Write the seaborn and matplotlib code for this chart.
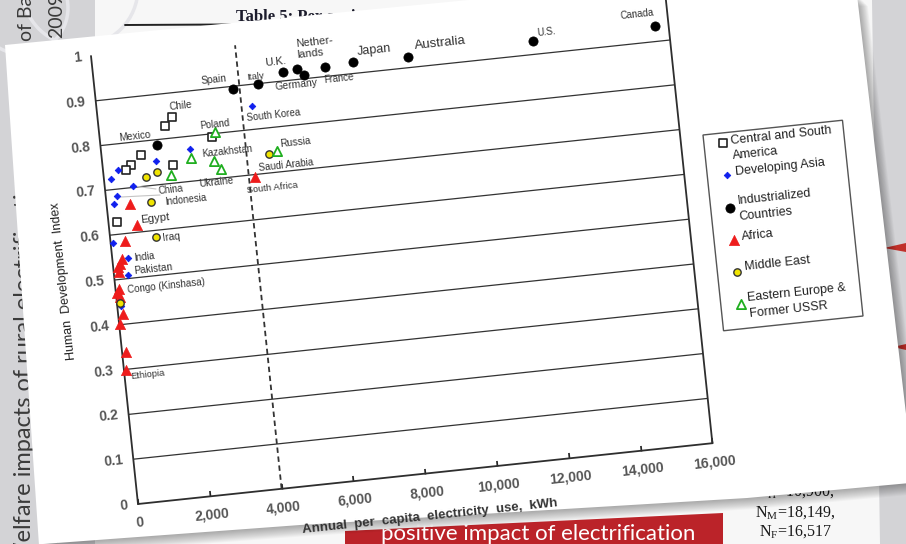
import matplotlib
matplotlib.use("Agg")
import numpy as np
import pandas as pd
import matplotlib.pyplot as plt
from matplotlib.transforms import Affine2D
from matplotlib.patches import Polygon, Rectangle, Circle
import mpl_toolkits.axisartist.floating_axes as floating_axes
from mpl_toolkits.axisartist.grid_finder import FixedLocator
import seaborn as sns

sns.set_theme(style="white")
plt.rcParams["font.family"] = ["Liberation Sans", "DejaVu Sans"]

# ---------------- data: per-capita electricity use (kWh) vs HDI ----------------
csa_kwh = [2050, 1830, 3100, 1090, 780, 640, 1940, 245]
csa_hdi = [0.847, 0.829, 0.794, 0.770, 0.750, 0.741, 0.740, 0.628]

asia_kwh = [4290, 2470, 1480, 415, 196, 780, 320, 210, 60, 430, 380, 110]
asia_hdi = [0.852, 0.772, 0.754, 0.743, 0.724, 0.703, 0.685, 0.668, 0.581, 0.545, 0.508, 0.441]

ind_kwh = [3810, 4510, 5250, 5640, 5820, 6420, 7190, 8730, 12220, 15630, 1570]
ind_hdi = [0.894, 0.900, 0.920, 0.923, 0.909, 0.920, 0.926, 0.924, 0.929, 0.935, 0.787]

afr_kwh = [4180, 650, 780, 410, 260, 200, 135, 130, 100, 30, 110, 130, 10, 105, 50]
afr_hdi = [0.694, 0.664, 0.616, 0.584, 0.544, 0.533, 0.517, 0.529, 0.479, 0.470, 0.462,
           0.422, 0.401, 0.339, 0.299]

me_kwh = [1160, 1480, 1230, 1260, 90, 4610]
me_hdi = [0.719, 0.728, 0.663, 0.586, 0.449, 0.743]

ee_kwh = [4850, 3190, 2460, 3090, 3260, 1850]
ee_hdi = [0.746, 0.803, 0.752, 0.740, 0.721, 0.719]

region_names = ["Central and South\nAmerica", "Developing Asia", "Industrialized\nCountries",
                "Africa", "Middle East", "Eastern Europe &\nFormer USSR"]
region_kwh = [csa_kwh, asia_kwh, ind_kwh, afr_kwh, me_kwh, ee_kwh]
region_hdi = [csa_hdi, asia_hdi, ind_hdi, afr_hdi, me_hdi, ee_hdi]

x_ticks = [0, 2000, 4000, 6000, 8000, 10000, 12000, 14000, 16000]
y_ticks = [0.0, 0.1, 0.2, 0.3, 0.4, 0.5, 0.6, 0.7, 0.8, 0.9, 1.0]
threshold_kwh = 4000

# country name annotations: (text, x, y, fontsize)
country_labels = [
    ("Spain", 2960, 0.919, 7.3), ("Italy", 4240, 0.917, 6.8), ("U.K.", 4770, 0.944, 8),
    ("Nether-\nlands", 5680, 0.966, 8), ("Germany", 4990, 0.888, 7.5),
    ("France", 6360, 0.893, 7), ("Japan", 7340, 0.946, 9), ("Australia", 8950, 0.946, 9.5),
    ("U.S.", 12360, 0.947, 7), ("Canada", 14700, 0.964, 7),
    ("South Korea", 4120, 0.826, 7), ("Chile", 2010, 0.869, 7.3), ("Mexico", 540, 0.812, 7.3),
    ("Poland", 2790, 0.820, 7), ("Kazakhstan", 2780, 0.758, 7), ("Russia", 4960, 0.762, 7.3),
    ("Saudi Arabia", 4290, 0.713, 7), ("South Africa", 3890, 0.667, 6.8),
    ("Ukraine", 2590, 0.692, 7.3), ("China", 1460, 0.686, 7), ("Indonesia", 1610, 0.661, 7),
    ("Egypt", 880, 0.627, 8.2), ("Iraq", 1430, 0.581, 7.5), ("India", 590, 0.544, 7),
    ("Pakistan", 570, 0.515, 7.3), ("Congo (Kinshasa)", 330, 0.475, 7),
    ("Ethiopia", 170, 0.284, 6.8),
]

styles = {
    region_names[0]: dict(marker="s", s=26, fc="white", ec="#222222", lw=1.2),
    region_names[1]: dict(marker="D", s=11, fc="#1020ee", ec="#1020ee", lw=0.6),
    region_names[2]: dict(marker="o", s=44, fc="black", ec="black", lw=0.5),
    region_names[3]: dict(marker="^", s=54, fc="#ee1c1c", ec="#ee1c1c", lw=0.5),
    region_names[4]: dict(marker="o", s=28, fc="#f0e400", ec="#333333", lw=1.0),
    region_names[5]: dict(marker="^", s=44, fc="white", ec="#1fae1f", lw=1.3),
}

df = pd.concat([pd.DataFrame({"kwh": k, "hdi": h, "region": r})
                for r, k, h in zip(region_names, region_kwh, region_hdi)], ignore_index=True)

# ---------------- figure & slide backdrop ----------------
W, H = 906, 544
fig = plt.figure(figsize=(W / 100, H / 100), dpi=100)
bg = fig.add_axes([0, 0, 1, 1])
bg.set_xlim(0, W)
bg.set_ylim(H, 0)
bg.axis("off")

bg.add_patch(Rectangle((0, 0), W, H, fc="#d3d3d6", ec="none", zorder=0))
bg.add_patch(Polygon([(95, 0), (872, 0), (880, H), (95, H)], closed=True,
                     fc="#f7f7f7", ec="none", zorder=1))
for cx, cy, r in [(22, 8, 46), (80, -12, 58)]:
    bg.add_patch(Circle((cx, cy), r, fill=False, ec="#e6e6ea", lw=2.5, zorder=1.5))

slide_font = ["Lato", "DejaVu Sans"]
bg.text(31, 566, "Welfare impacts of rural electrification", rotation=90,
        rotation_mode="anchor", ha="left", va="baseline", fontsize=17,
        color="#3a3a3a", family=slide_font, zorder=2)
bg.text(59, 571, "Policy Research Working Paper", rotation=90, rotation_mode="anchor",
        ha="left", va="baseline", fontsize=17, color="#3a3a3a", family=slide_font, zorder=2)
bg.text(32, 41, "of Bangladesh", rotation=90, rotation_mode="anchor", ha="left",
        va="baseline", fontsize=14, color="#3a3a3a", family=slide_font, zorder=2)
bg.text(62, 38, "2009", rotation=90, rotation_mode="anchor", ha="left",
        va="baseline", fontsize=14, color="#3a3a3a", family=slide_font, zorder=2)

serif = ["Liberation Serif", "DejaVu Serif"]
bg.text(236, 21, "Table 5: Per capita electricity consumption", family=serif, fontsize=12,
        fontweight="bold", color="#1c1c2c", ha="left", va="baseline", zorder=2)
bg.plot([125, 320], [25, 24], color="#222222", lw=1.4, zorder=2)
bg.text(795, 492, r"N$_\mathregular{H}$=10,900,", family=serif, fontsize=11.5,
        color="#1a1a1a", ha="center", va="center", zorder=2)
bg.text(795, 513, r"N$_\mathregular{M}$=18,149,", family=serif, fontsize=11.5,
        color="#1a1a1a", ha="center", va="center", zorder=2)
bg.text(795, 532, r"N$_\mathregular{F}$=16,517", family=serif, fontsize=11.5,
        color="#1a1a1a", ha="center", va="center", zorder=2)

bg.add_patch(Polygon([(345, 531), (723, 513), (723, H), (345, H)], closed=True,
                     fc="#bb2329", ec="none", zorder=2))
bg.text(381, 540, "positive impact of electrification", color="white", fontsize=16,
        family=slide_font, ha="left", va="baseline", zorder=3)

bg.add_patch(Polygon([(884, 248), (906, 243), (906, 252)], closed=True, fc="#c0302a",
                     ec="none", zorder=3))
bg.add_patch(Polygon([(893, 347), (906, 344), (906, 350)], closed=True, fc="#c0302a",
                     ec="none", zorder=3))

paper_pts = np.array([(5, 45), (520, -5), (857, -5), (910, 448), (910, 483),
                      (747, 498), (300, 525), (43, 544), (40, 560)], float)
for k in range(1, 13):
    bg.add_patch(Polygon(paper_pts + [k * 0.9, k * 0.9], closed=True, fc="black",
                         ec="none", alpha=0.028, zorder=4))
paper = Polygon(paper_pts, closed=True, fc="white", ec="none", zorder=5)
bg.add_patch(paper)

# ---------------- rotated chart axes ----------------
tr = Affine2D.from_values(0.0359, 0.0038, -47.0, 448.0, 138.0, 40.0)
extremes = (x_ticks[0], x_ticks[-1], y_ticks[0], y_ticks[-1])
corners = tr.transform([(extremes[0], extremes[2]), (extremes[1], extremes[2]),
                        (extremes[1], extremes[3]), (extremes[0], extremes[3])])
(x0, y0), (x1, y1) = corners.min(0), corners.max(0)
cxp, cyp = (x0 + x1) / 2, (y0 + y1) / 2
bw, bh = (x1 - x0) * 1.02, (y1 - y0) * 1.02
rect = [(cxp - bw / 2) / W, (cyp - bh / 2) / H, bw / W, bh / H]

gh = floating_axes.GridHelperCurveLinear(
    tr, extremes=extremes,
    grid_locator1=FixedLocator(x_ticks),
    grid_locator2=FixedLocator(y_ticks[1:-1]))
ax = fig.add_axes(rect, axes_class=floating_axes.FloatingAxes, grid_helper=gh)
ax.patch.set_facecolor("none")
ax.grid(True, axis="y", color="#333333", linewidth=0.9)
for side in ["left", "bottom", "right"]:
    art = ax.axis[side]
    art.line.set_edgecolor("#2e2e2e")
    art.line.set_linewidth(1.3)
    art.major_ticklabels.set_visible(False)
    art.major_ticks.set_visible(side == "bottom")
ax.axis["top"].set_visible(False)
ax.axis["bottom"].major_ticks.set_tick_out(False)
ax.axis["bottom"].major_ticks.set_ticksize(4)

aux = ax.get_aux_axes(tr)


def px(xp, yp):
    """Image pixel position -> chart data coordinates."""
    return tr.inverted().transform((xp, H - yp))


ROT = 6.0

# threshold line
aux.plot([threshold_kwh, threshold_kwh], [0, 0.99], color="#333333", lw=1.3,
         ls=(0, (3, 2)), zorder=3)

# scatter points by region
for name in region_names:
    st = styles[name]
    sub = df[df["region"] == name]
    sns.scatterplot(data=sub, x="kwh", y="hdi", ax=aux, marker=st["marker"], s=st["s"],
                    facecolor=st["fc"], edgecolor=st["ec"], linewidth=st["lw"],
                    legend=False, zorder=4)

# leader lines for crowded labels
for (ax0, ay0), (ax1_, ay1_) in [((156, 189), (134, 186)), ((160, 195), (121, 197))]:
    p0, p1 = px(ax0, ay0), px(ax1_, ay1_)
    aux.plot([p0[0], p1[0]], [p0[1], p1[1]], color="#c4c4c4", lw=0.8, zorder=3)

for name, lx, ly, fs in country_labels:
    aux.text(lx, ly, name, fontsize=fs, color="#333333", rotation=ROT,
             rotation_mode="anchor", ha="left", va="center", linespacing=1.2, zorder=5)

# tick labels
tick_kw = dict(fontsize=10, color="#555555", fontweight="bold", rotation=ROT,
               rotation_mode="anchor")
for xv in x_ticks:
    aux.text(xv, -0.042, f"{xv:,}", ha="center", va="center", **tick_kw)
for yv in y_ticks:
    lab = "0" if yv == 0 else ("1" if yv == 1 else f"{yv:.1f}")
    aux.text(-280, yv, lab, ha="right", va="center", **tick_kw)

# axis titles
aux.text(-1390, 0.51, "Human  Development  Index", rotation=90 + ROT, rotation_mode="anchor",
         ha="center", va="center", fontsize=9, color="#222222")
xl = aux.text(8000, -0.097, "Annual  per  capita  electricity  use,  kWh", rotation=ROT,
              rotation_mode="anchor", ha="center", va="center", fontsize=9.5,
              fontweight="bold", color="#333333")
xl.set_clip_path(paper)
xl.set_clip_box(None)
xl.set_clip_on(True)

# legend box
lx0, ly1 = px(703, 135)
lx1, ly0 = px(863, 316)
aux.add_patch(Rectangle((lx0, ly0), lx1 - lx0, ly1 - ly0, fill=False, ec="#555555",
                        lw=1.0, clip_on=False, zorder=4))
legend_layout = [((722.7, 143.3), (731.7, 148.5)), ((727.3, 175.0), (735.0, 172.0)),
                 ((730.0, 208.3), (738.5, 209.0)), ((734.3, 240.0), (741.7, 237.0)),
                 ((737.3, 271.7), (745.0, 267.5)), ((741.0, 304.0), (748.5, 306.0))]
for name, (mpos, tpos) in zip(region_names, legend_layout):
    st = styles[name]
    mx, my = px(*mpos)
    aux.scatter([mx], [my], marker=st["marker"], s=st["s"], facecolor=st["fc"],
                edgecolor=st["ec"], linewidth=st["lw"], clip_on=False, zorder=5)
    tx, ty = px(*tpos)
    aux.text(tx, ty, name, fontsize=9, color="#222222", rotation=ROT, rotation_mode="anchor",
             ha="left", va="center", linespacing=1.35, zorder=5)

fig.savefig("out.png", dpi=100)
